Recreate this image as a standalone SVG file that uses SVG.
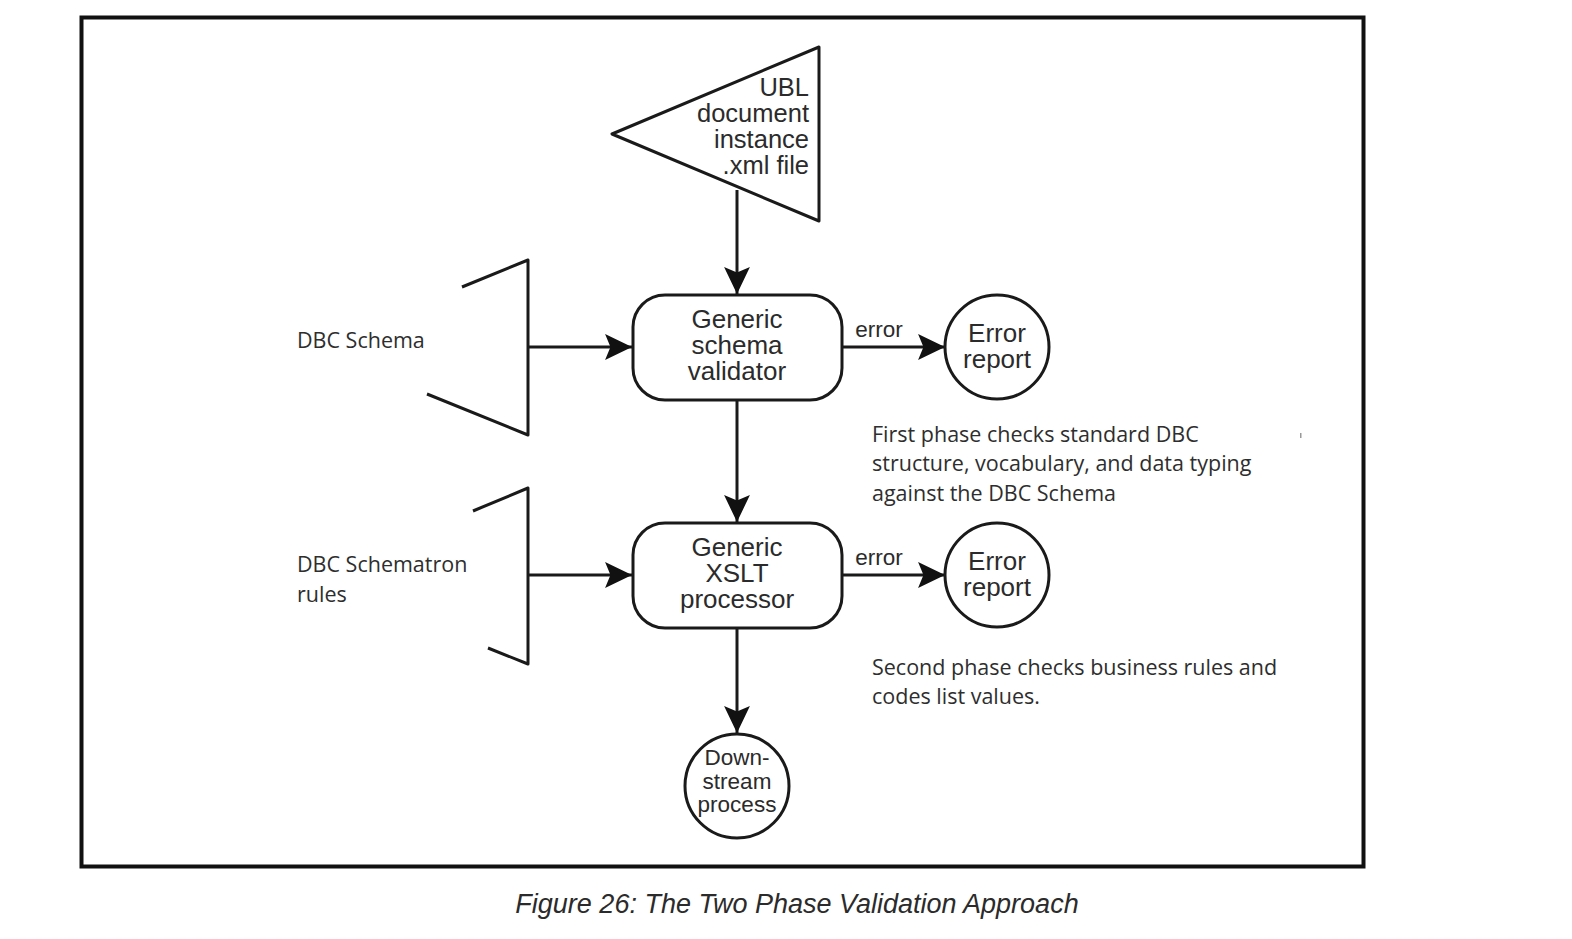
<svg xmlns="http://www.w3.org/2000/svg" width="1572" height="939" viewBox="0 0 1572 939">
<style>
.s{fill:none;stroke:#1a1a1a;stroke-width:3;stroke-linejoin:round}
.h{font-family:"Liberation Sans",Arial,sans-serif;fill:#2b2b2b}
.c{font-family:"Open Sans","Noto Sans",sans-serif;fill:#2e2e2e;font-size:21.5px}
.m{text-anchor:middle}
</style>
<defs>
<marker id="ah" markerUnits="userSpaceOnUse" markerWidth="28" markerHeight="28" viewBox="0 0 26 26" refX="25" refY="13" orient="auto">
<path d="M0,1 L25,13 L0,25 L5,13 Z" fill="#111"/>
</marker>
</defs>
<rect width="1572" height="939" fill="#fff"/>
<rect x="81.5" y="17.5" width="1282" height="849" fill="none" stroke="#111" stroke-width="4"/>

<g id="connectors">
<line class="s" x1="737" y1="190" x2="737" y2="294" marker-end="url(#ah)"/>
<line class="s" x1="528" y1="347" x2="632" y2="347" marker-end="url(#ah)"/>
<line class="s" x1="842" y1="347" x2="945" y2="347" marker-end="url(#ah)"/>
<text class="h m" x="879" y="337" font-size="22.5">error</text>
<line class="s" x1="737" y1="400" x2="737" y2="522" marker-end="url(#ah)"/>
<line class="s" x1="528" y1="575" x2="632" y2="575" marker-end="url(#ah)"/>
<line class="s" x1="842" y1="575" x2="945" y2="575" marker-end="url(#ah)"/>
<text class="h m" x="879" y="565" font-size="22.5">error</text>
<line class="s" x1="737" y1="628" x2="737" y2="733" marker-end="url(#ah)"/>
</g>

<g id="ubl-document">
<path class="s" d="M819,47 L612,134 L819,221 Z"/>
<text class="h" text-anchor="end" font-size="25.5" x="808"><tspan x="809" y="96">UBL</tspan><tspan x="809" y="122">document</tspan><tspan x="809" y="148">instance</tspan><tspan x="809" y="174">.xml file</tspan></text>
</g>

<g id="dbc-schema">
<path class="s" d="M462,287 L528,260 L528,435 L427,394"/>
<text class="c" x="297" y="348">DBC Schema</text>
</g>

<g id="schema-validator">
<rect class="s" x="633" y="295" width="209" height="105" rx="32"/>
<text class="h m" font-size="26"><tspan x="737" y="328">Generic</tspan><tspan x="737" y="354">schema</tspan><tspan x="737" y="380">validator</tspan></text>
</g>

<g id="error-report-1">
<circle class="s" cx="997" cy="347" r="52"/>
<text class="h m" font-size="26"><tspan x="997" y="342">Error</tspan><tspan x="997" y="368">report</tspan></text>
</g>

<g id="note-1">
<text class="c"><tspan x="872" y="442">First phase checks standard DBC</tspan><tspan x="872" y="471">structure, vocabulary, and data typing</tspan><tspan x="872" y="501">against the DBC Schema</tspan></text>
<rect x="1300" y="433" width="1.5" height="5" fill="#999"/>
</g>

<g id="dbc-schematron">
<path class="s" d="M473,511 L528,488 L528,664 L488,648"/>
<text class="c"><tspan x="297" y="572">DBC Schematron</tspan><tspan x="297" y="602">rules</tspan></text>
</g>

<g id="xslt-processor">
<rect class="s" x="633" y="523" width="209" height="105" rx="32"/>
<text class="h m" font-size="26"><tspan x="737" y="556">Generic</tspan><tspan x="737" y="582">XSLT</tspan><tspan x="737" y="608">processor</tspan></text>
</g>

<g id="error-report-2">
<circle class="s" cx="997" cy="575" r="52"/>
<text class="h m" font-size="26"><tspan x="997" y="570">Error</tspan><tspan x="997" y="596">report</tspan></text>
</g>

<g id="note-2">
<text class="c"><tspan x="872" y="675">Second phase checks business rules and</tspan><tspan x="872" y="704">codes list values.</tspan></text>
</g>

<g id="downstream">
<circle class="s" cx="737" cy="786" r="52"/>
<text class="h m" font-size="22.5"><tspan x="737" y="765">Down-</tspan><tspan x="737" y="789">stream</tspan><tspan x="737" y="812">process</tspan></text>
</g>

<text class="h m" x="797" y="913" font-size="27" font-style="italic" fill="#1a1a1a">Figure 26: The Two Phase Validation Approach</text>
</svg>
